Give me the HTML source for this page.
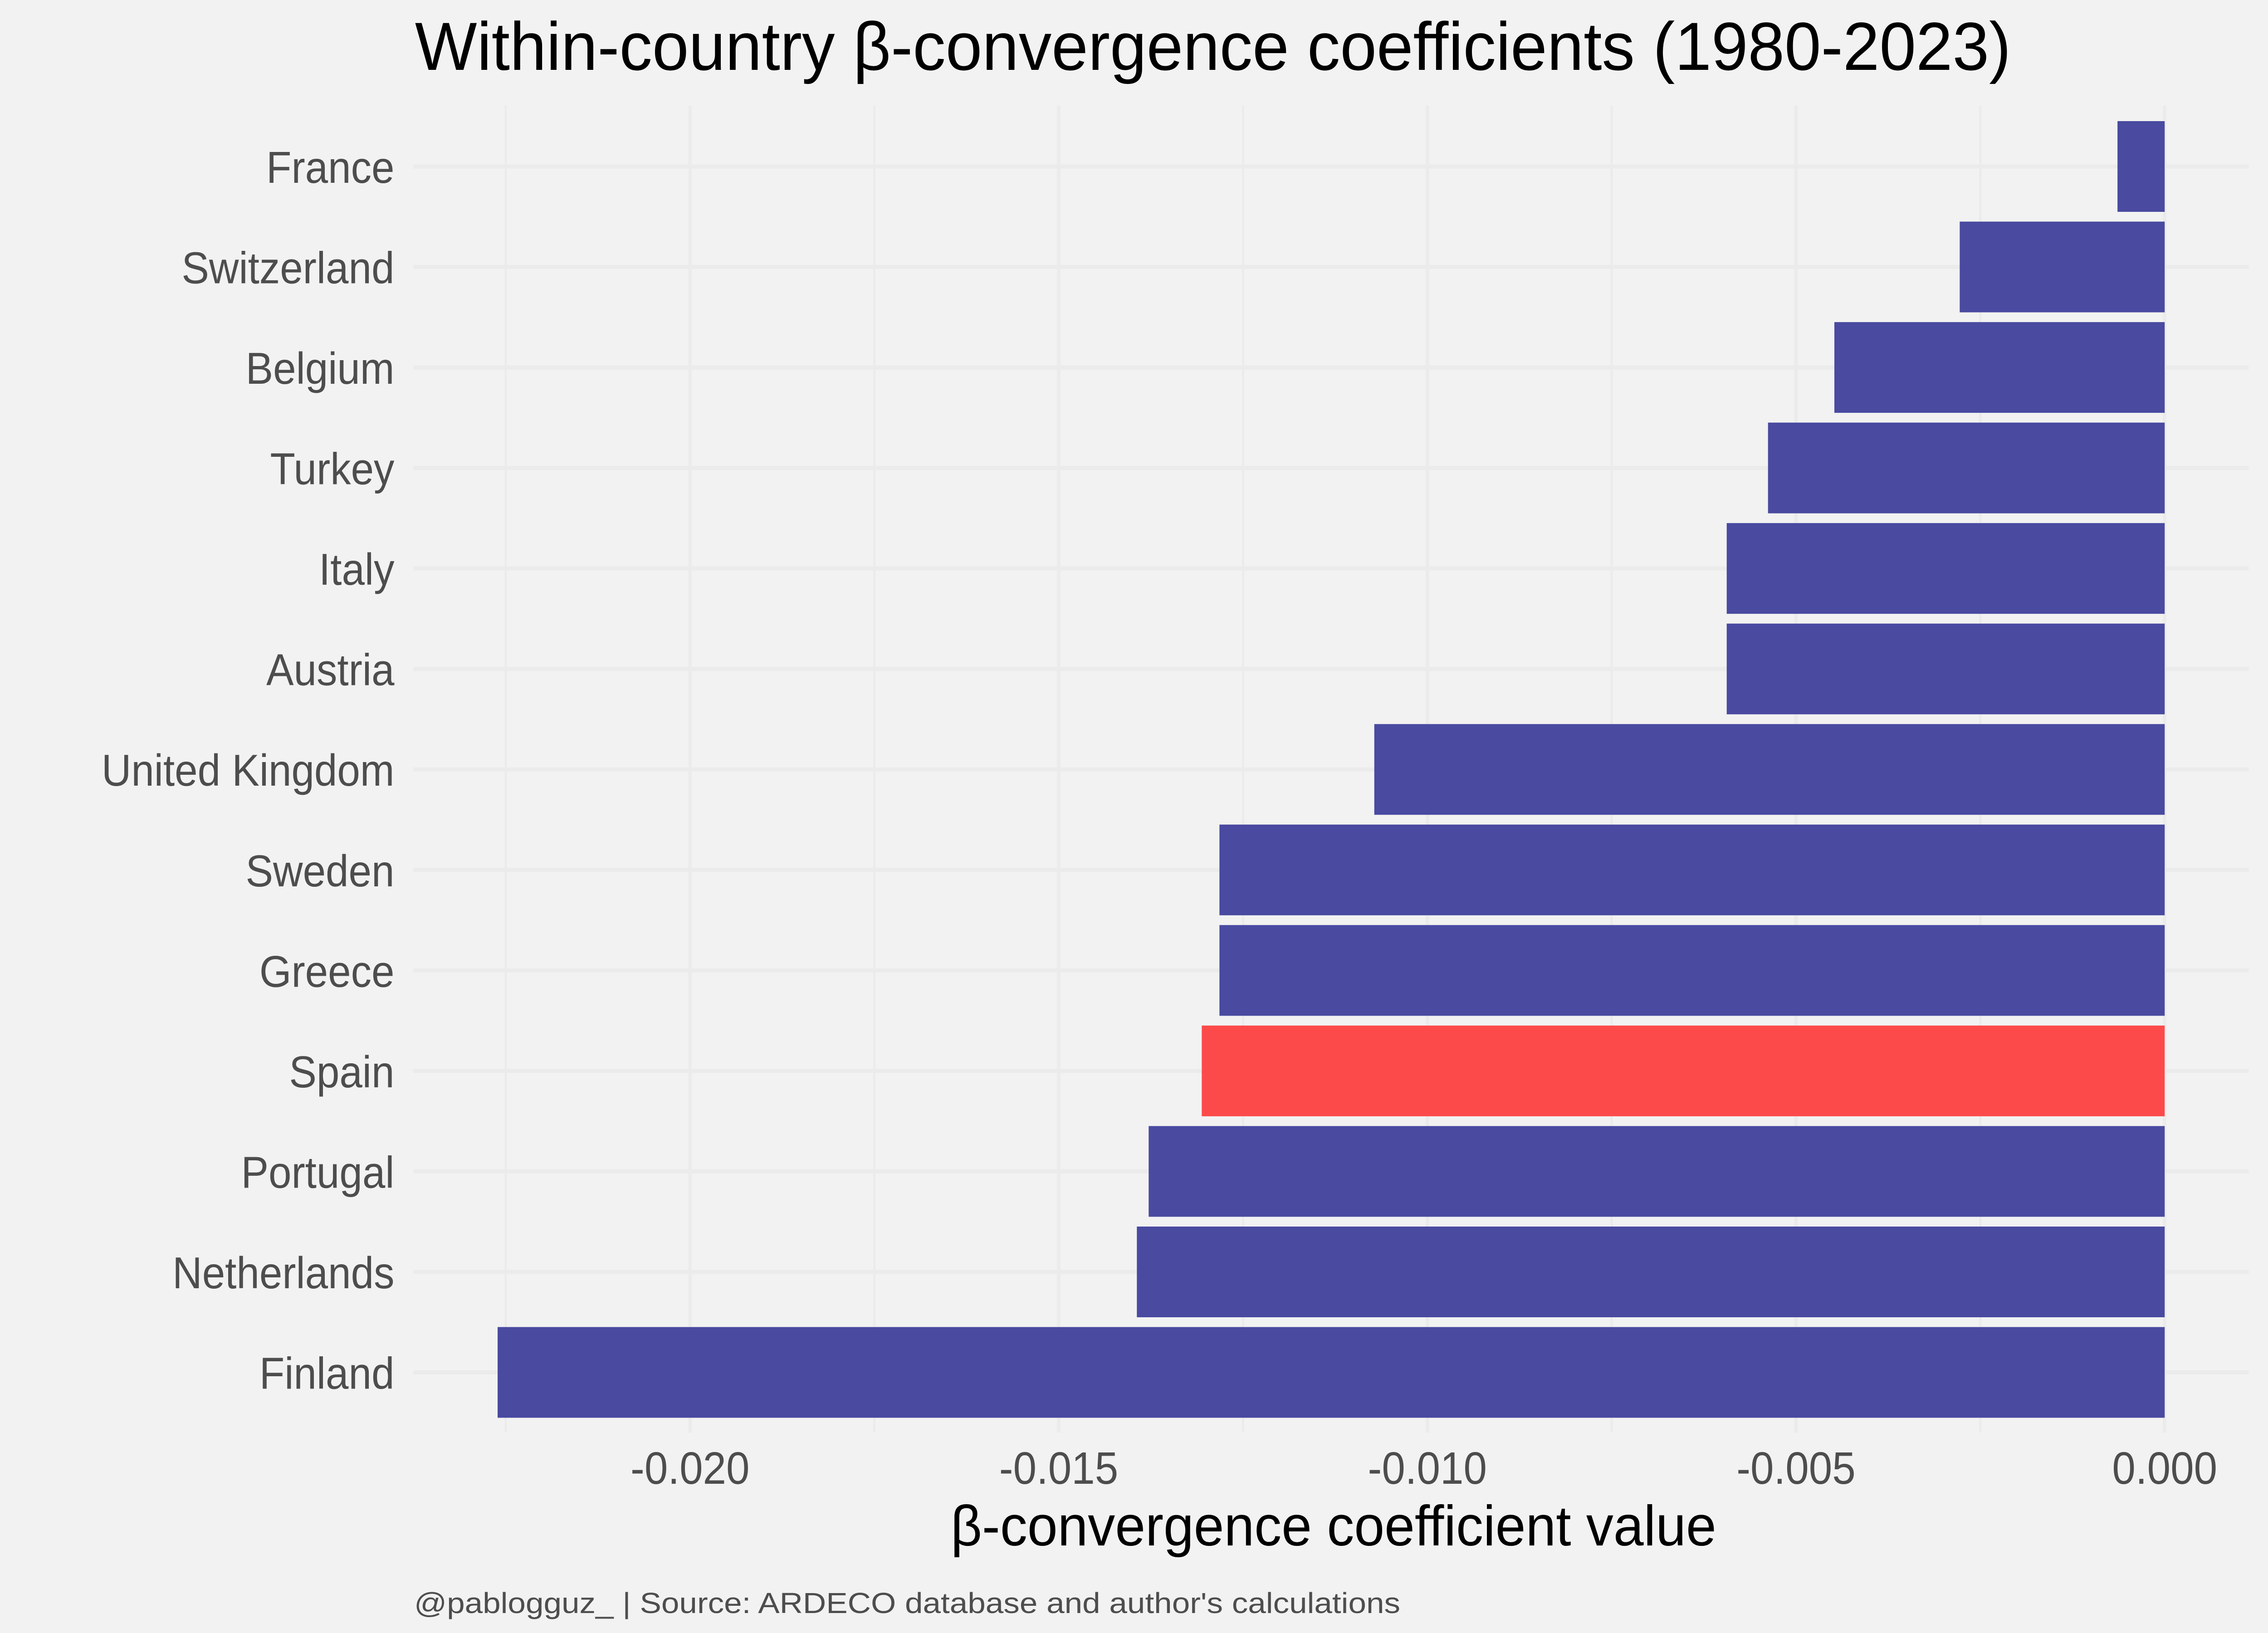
<!DOCTYPE html>
<html><head><meta charset="utf-8"><style>
html,body{margin:0;padding:0;background:#f2f2f2;width:100%;height:100%;overflow:hidden}
svg{display:block;width:100vw;height:100vh}
text{font-family:"Liberation Sans",sans-serif}
</style></head><body>
<svg id="chart" viewBox="0 0 5400 3600" preserveAspectRatio="none" xmlns="http://www.w3.org/2000/svg">
<rect x="0" y="0" width="5400" height="3600" fill="#f2f2f2"/>
<text x="988" y="154" font-size="150" fill="#000" textLength="3800" lengthAdjust="spacingAndGlyphs">Within-country β-convergence coefficients (1980-2023)</text>
<g id="grid"></g>
<g id="bars"></g>
<g id="ylabels"></g>
<g id="xlabels"></g>
<text x="3175" y="3407" font-size="125" fill="#000" text-anchor="middle" textLength="1823" lengthAdjust="spacingAndGlyphs">β-convergence coefficient value</text>
<text x="986" y="3556" font-size="64" fill="#4d4d4d" textLength="2348" lengthAdjust="spacingAndGlyphs">@pablogguz_ | Source: ARDECO database and author's calculations</text>
</svg>
<script>
const countries = ["France","Switzerland","Belgium","Turkey","Italy","Austria","United Kingdom","Sweden","Greece","Spain","Portugal","Netherlands","Finland"];
const values = [-0.00064,-0.00278,-0.00448,-0.00538,-0.00594,-0.00594,-0.01072,-0.01282,-0.01282,-0.01306,-0.01378,-0.01394,-0.02261];
const highlight = ["Spain"];
const majorTicks = [-0.020,-0.015,-0.010,-0.005,0.000];
const tickLabels = ["-0.020","-0.015","-0.010","-0.005","0.000"];
const minorTicks = [-0.0225,-0.0175,-0.0125,-0.0075,-0.0025];

const NS="http://www.w3.org/2000/svg";
const panel={left:984,right:5354,top:233,bottom:3158};
const x0=5154, xScale=175550;
function X(v){return x0+v*xScale;}
const rowTop=367, rowStep=(3025.5-367)/12, barH=200;
function Y(i){return rowTop+i*rowStep;}
function mk(tag,attrs,parent){const e=document.createElementNS(NS,tag);for(const k in attrs)e.setAttribute(k,attrs[k]);parent.appendChild(e);return e;}

const grid=document.getElementById('grid');
minorTicks.forEach(t=>{
  const l=mk('line',{x1:X(t),x2:X(t),y1:panel.top,y2:panel.bottom,stroke:'#ebebeb','stroke-width':5},grid);
  
  
});
majorTicks.forEach(t=>{
  const l=mk('line',{x1:X(t),x2:X(t),y1:panel.top,y2:panel.bottom,stroke:'#ebebeb','stroke-width':8},grid);
  
  
});
countries.forEach((c,i)=>{
  const l=mk('line',{x1:panel.left,x2:panel.right,y1:Y(i),y2:Y(i),stroke:'#ebebeb','stroke-width':9},grid);
  
  
});

const bars=document.getElementById('bars');
const yl=document.getElementById('ylabels');
countries.forEach((c,i)=>{
  const v=values[i];
  const r=mk('rect',{x:Math.min(X(v),X(0)),y:Y(i)-barH/2,width:Math.abs(X(v)-X(0)),height:barH,fill:highlight.includes(c)?'#fc4a4a':'#494aa0'},bars);
  
  
  const t=mk('text',{x:939,y:Y(i)+36,'font-size':98,fill:'#4d4d4d','text-anchor':'end'},yl);
  t.textContent=c;
  
  
});

const xl=document.getElementById('xlabels');
majorTicks.forEach((t,i)=>{
  const e=mk('text',{x:X(t),y:3271,'font-size':100,fill:'#4d4d4d','text-anchor':'middle'},xl);
  e.textContent=tickLabels[i];
  
  
});
</script>
</body></html>
